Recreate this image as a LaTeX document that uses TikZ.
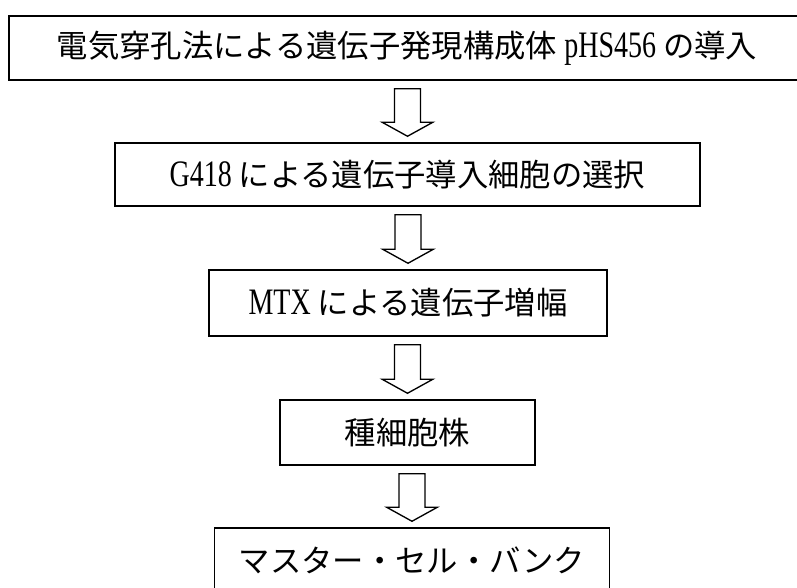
\documentclass[tikz,border=0pt]{standalone}
\usepackage{fontspec}
\usetikzlibrary{calc}
\newfontfamily\jpfont{Noto Sans CJK JP}
\newfontfamily\latfontface[FakeStretch=0.75]{Liberation Serif}
\newcommand\latfont{\latfontface\fontsize{28}{28}\selectfont}
\newcommand\flowarrow[2]{%
  \draw[blockarrow] let \p1=(#1.south), \p2=(#2.north) in
    (\x2-9.75pt,\y1-6pt) -- (\x2-9.75pt,\y2+15pt) -- (\x2-19pt,\y2+15pt) --
    (\x2,\y2+4.5pt) -- (\x2+19pt,\y2+15pt) -- (\x2+9.75pt,\y2+15pt) --
    (\x2+9.75pt,\y1-6pt) -- cycle;}
\begin{document}
\begin{tikzpicture}[x=0.75pt,y=-0.75pt,
  stepbox/.style={draw=black, line width=1.1pt, rectangle, inner sep=0pt,
    font=\jpfont\fontsize{23.5}{28}\selectfont},
  blockarrow/.style={draw=black, line width=1pt, fill=white, line join=miter}]
\useasboundingbox (0,0) rectangle (797,588);
\clip (0,0) rectangle (797,588);
\node[stepbox, minimum width=796*0.75pt, minimum height=64*0.75pt] (b1) at (407,48)
  {電気穿孔法による遺伝子発現構成体 {\latfont pHS456} の導入};
\node[stepbox, minimum width=585*0.75pt, minimum height=63*0.75pt] (b2) at (407.5,174.5)
  {{\latfont G418} による遺伝子導入細胞の選択};
\node[stepbox, minimum width=398*0.75pt, minimum height=66*0.75pt] (b3) at (408,303)
  {{\latfont MTX} による遺伝子増幅\hspace{20pt}};
\node[stepbox, minimum width=255*0.75pt, minimum height=65*0.75pt] (b4) at (407.5,432.5)
  {種細胞株};
\node[stepbox, minimum width=395*0.75pt, minimum height=64*0.75pt] (b5) at (412,560)
  {マスター・セル・バンク};
\flowarrow{b1}{b2}
\flowarrow{b2}{b3}
\flowarrow{b3}{b4}
\flowarrow{b4}{b5}
\end{tikzpicture}
\end{document}
